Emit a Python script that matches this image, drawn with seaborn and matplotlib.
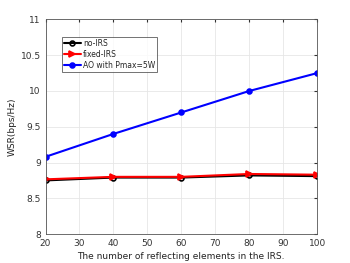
import seaborn as sns
import matplotlib.pyplot as plt
import pandas as pd

# Data
elements = [20, 40, 60, 80, 100]
no_irs = [8.75, 8.79, 8.79, 8.82, 8.81]
fixed_irs = [8.765, 8.80, 8.80, 8.84, 8.83]
ao_pmax = [9.08, 9.40, 9.70, 10.00, 10.25]

series = ["no-IRS", "fixed-IRS", "AO with Pmax=5W"]
colors = ["black", "red", "blue"]
markers = ["o", ">", "o"]
msizes = [3.5, 4.5, 3.5]

df = pd.DataFrame({
    "N": elements * 3,
    "WSR": no_irs + fixed_irs + ao_pmax,
    "scheme": [s for s in series for _ in elements],
})

sns.set_style("whitegrid")
plt.rcParams['font.family'] = ['DejaVu Sans']

fig = plt.figure(figsize=(3.5, 2.63), dpi=100)
ax = fig.add_axes([0.130, 0.110, 0.776, 0.816])

for name, col, mk, ms in zip(series, colors, markers, msizes):
    sub = df[df["scheme"] == name]
    mfc = "none" if name == "no-IRS" else col
    sns.lineplot(data=sub, x="N", y="WSR", ax=ax, color=col, marker=mk,
                 markersize=ms, linewidth=1.5, markerfacecolor=mfc,
                 markeredgecolor=col, markeredgewidth=1.2, label=name)

ax.set_xlim(20, 100)
ax.set_ylim(8, 11)
ax.set_xticks(range(20, 101, 10))
ax.set_yticks([8, 8.5, 9, 9.5, 10, 10.5, 11])
ax.set_yticklabels(["8", "8.5", "9", "9.5", "10", "10.5", "11"])
ax.tick_params(labelsize=6.5, colors="#333333", length=2, direction="in",
               top=True, right=True)
ax.grid(True, color="#e6e6e6", linewidth=0.6)
for sp in ax.spines.values():
    sp.set_color("#555555")
    sp.set_linewidth(0.6)

ax.set_xlabel("The number of reflecting elements in the IRS.", fontsize=6.5,
              color="#222222", labelpad=3)
ax.set_ylabel("WSR(bps/Hz)", fontsize=6.5, color="#222222", labelpad=3)

leg = ax.legend(loc="upper left", bbox_to_anchor=(0.045, 0.937), fontsize=5.5,
                frameon=True, fancybox=False, edgecolor="#333333",
                borderpad=0.3, labelspacing=0.25, handlelength=2.2,
                handletextpad=0.3)
leg.get_frame().set_linewidth(0.6)

plt.savefig("out.png", dpi=100)
